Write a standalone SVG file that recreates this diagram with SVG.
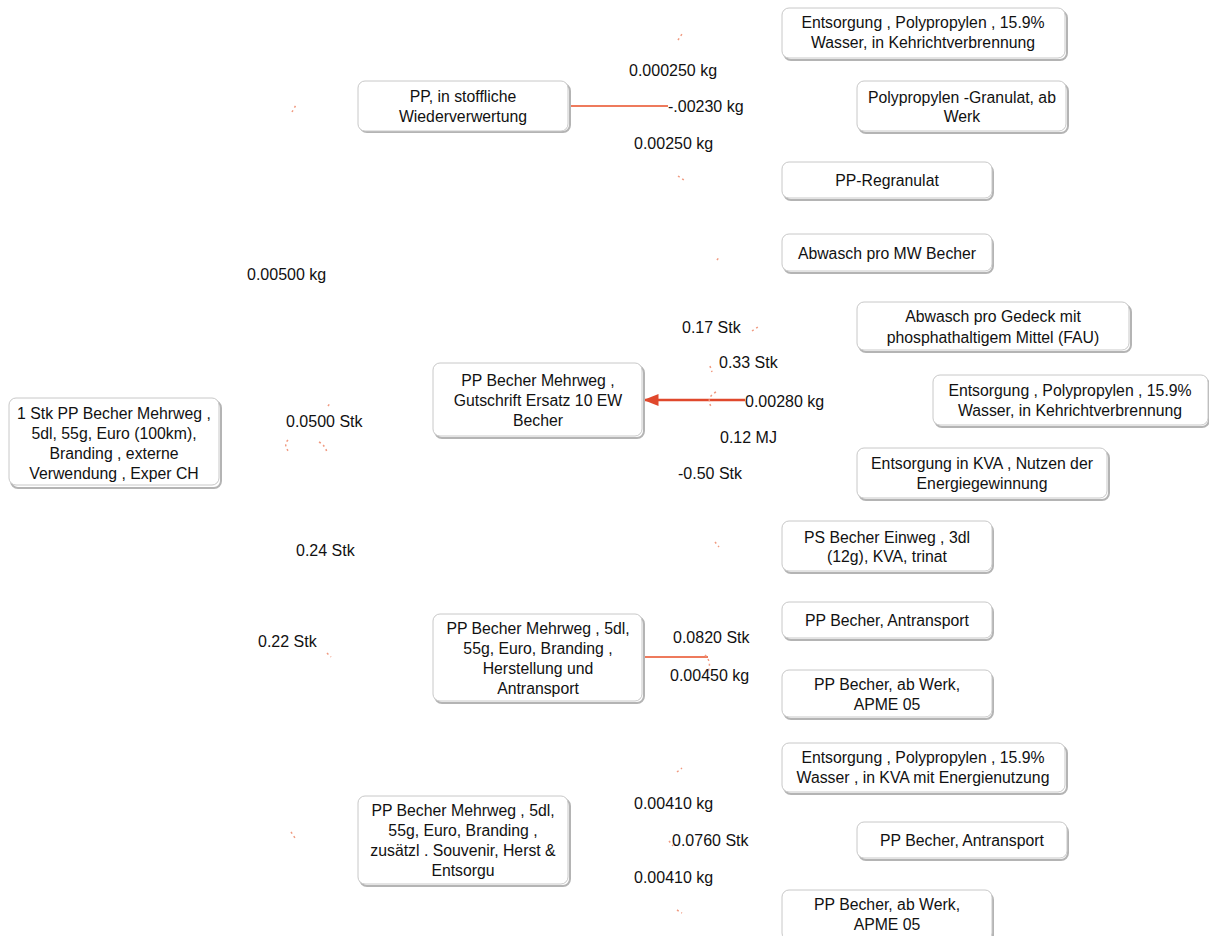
<svg xmlns="http://www.w3.org/2000/svg" width="1209" height="936" viewBox="0 0 1209 936">
<style>
.box{fill:#fff;stroke:#c8c8c8;stroke-width:1}
.sh{fill:none;stroke:#b4b4b4;stroke-width:2}
.t{font-family:"Liberation Sans",Arial,sans-serif;font-size:15.8px;fill:#111;text-anchor:middle}
.l{font-family:"Liberation Sans",Arial,sans-serif;font-size:16px;fill:#111}
.e{fill:none;stroke:#ee7a5c;stroke-width:2}
.f{fill:none;stroke:#f09a80;stroke-width:1.5;stroke-dasharray:2 3}
</style>
<defs>
<marker id="ah" viewBox="0 0 10 10" refX="9" refY="5" markerWidth="6" markerHeight="6" orient="auto"><path d="M0,1 L10,5 L0,9 z" fill="#e0482c"/></marker>
</defs>
<rect width="1209" height="936" fill="#fff"/>
<g id="connectors">
<path class="e" d="M570,106 H668"/>
<path d="M745,400 H645" fill="none" stroke="#e0482c" stroke-width="2.5" marker-end="url(#ah)"/>
<path class="e" d="M643,657 H708"/>
<path class="f" d="M716,392 Q705,398 712,408"/>
<path class="f" d="M705,655 Q712,662 708,672"/>
<path class="f" d="M678,40 L682,34"/>
<path class="f" d="M678,176 L684,180"/>
<path class="f" d="M292,112 L296,105"/>
<path class="f" d="M717,260 L720,256"/>
<path class="f" d="M752,331 L758,327"/>
<path class="f" d="M288,440 Q283,445 289,452"/>
<path class="f" d="M319,442 Q326,446 327,453"/>
<path class="f" d="M328,406 L331,402"/>
<path class="f" d="M715,542 L719,547"/>
<path class="f" d="M327,653 L331,657"/>
<path class="f" d="M677,772 L682,768"/>
<path class="f" d="M669,841 L673,846"/>
<path class="f" d="M291,832 L295,838"/>
<path class="f" d="M677,910 L682,913"/>
<path class="f" d="M710,366 L712,372"/>
</g>
<g id="n0"><rect class="sh" x="11" y="401" width="210" height="87" rx="7"/><rect class="box" x="9" y="398" width="210" height="87" rx="7"/>
<text class="t" x="114" y="419">1 Stk PP Becher Mehrweg ,</text><text class="t" x="114" y="439">5dl, 55g, Euro (100km),</text><text class="t" x="114" y="459">Branding , externe</text><text class="t" x="114" y="479">Verwendung , Exper CH</text></g>
<g id="n1"><rect class="sh" x="360" y="84" width="210" height="48" rx="7"/><rect class="box" x="358" y="81" width="210" height="50" rx="7"/>
<text class="t" x="463" y="102">PP, in stoffliche</text><text class="t" x="463" y="122">Wiederverwertung</text></g>
<g id="n2"><rect class="sh" x="435" y="366" width="209" height="72" rx="7"/><rect class="box" x="433" y="363" width="209" height="73" rx="7"/>
<text class="t" x="538" y="386">PP Becher Mehrweg ,</text><text class="t" x="538" y="406">Gutschrift Ersatz  10 EW</text><text class="t" x="538" y="426">Becher</text></g>
<g id="n3"><rect class="sh" x="435" y="617" width="209" height="86" rx="7"/><rect class="box" x="433" y="614" width="209" height="87" rx="7"/>
<text class="t" x="538" y="634">PP Becher Mehrweg , 5dl,</text><text class="t" x="538" y="654">55g, Euro, Branding ,</text><text class="t" x="538" y="674">Herstellung und</text><text class="t" x="538" y="694">Antransport</text></g>
<g id="n4"><rect class="sh" x="360" y="799" width="210" height="87" rx="7"/><rect class="box" x="358" y="796" width="210" height="88" rx="7"/>
<text class="t" x="463" y="816">PP Becher Mehrweg , 5dl,</text><text class="t" x="463" y="836">55g, Euro, Branding ,</text><text class="t" x="463" y="856">zusätzl . Souvenir, Herst &amp;</text><text class="t" x="463" y="876">Entsorgu</text></g>
<g id="r1"><rect class="sh" x="784" y="11" width="283" height="49" rx="7"/><rect class="box" x="782" y="8" width="283" height="50" rx="7"/>
<text class="t" x="923" y="28">Entsorgung , Polypropylen , 15.9%</text><text class="t" x="923" y="48">Wasser, in Kehrichtverbrennung</text></g>
<g id="r2"><rect class="sh" x="859" y="84" width="209" height="49" rx="7"/><rect class="box" x="857" y="81" width="209" height="50" rx="7"/>
<text class="t" x="962" y="103">Polypropylen -Granulat, ab</text><text class="t" x="962" y="122">Werk</text></g>
<g id="r3"><rect class="sh" x="784" y="165" width="209" height="35" rx="7"/><rect class="box" x="782" y="162" width="210" height="36" rx="7"/>
<text class="t" x="887" y="186">PP-Regranulat</text></g>
<g id="r4"><rect class="sh" x="784" y="237" width="209" height="36" rx="7"/><rect class="box" x="782" y="234" width="210" height="37" rx="7"/>
<text class="t" x="887" y="259">Abwasch pro MW Becher</text></g>
<g id="r5"><rect class="sh" x="859" y="305" width="272" height="47" rx="7"/><rect class="box" x="857" y="302" width="272" height="48" rx="7"/>
<text class="t" x="993" y="322">Abwasch pro Gedeck mit</text><text class="t" x="993" y="343">phosphathaltigem Mittel   (FAU)</text></g>
<g id="r6"><rect class="sh" x="935" y="378" width="274" height="49" rx="7"/><rect class="box" x="933" y="375" width="275" height="50" rx="7"/>
<text class="t" x="1070" y="396">Entsorgung , Polypropylen , 15.9%</text><text class="t" x="1070" y="416">Wasser, in Kehrichtverbrennung</text></g>
<g id="r7"><rect class="sh" x="859" y="451" width="250" height="49" rx="7"/><rect class="box" x="857" y="448" width="250" height="50" rx="7"/>
<text class="t" x="982" y="469">Entsorgung in KVA , Nutzen der</text><text class="t" x="982" y="489">Energiegewinnung</text></g>
<g id="r8"><rect class="sh" x="784" y="524" width="209" height="49" rx="7"/><rect class="box" x="782" y="521" width="210" height="50" rx="7"/>
<text class="t" x="887" y="543">PS Becher Einweg , 3dl</text><text class="t" x="887" y="562">(12g), KVA, trinat</text></g>
<g id="r9"><rect class="sh" x="784" y="605" width="209" height="35" rx="7"/><rect class="box" x="782" y="602" width="210" height="36" rx="7"/>
<text class="t" x="887" y="626">PP Becher, Antransport</text></g>
<g id="r10"><rect class="sh" x="784" y="673" width="209" height="46" rx="7"/><rect class="box" x="782" y="670" width="210" height="47" rx="7"/>
<text class="t" x="887" y="690">PP Becher, ab Werk,</text><text class="t" x="887" y="710">APME 05</text></g>
<g id="r11"><rect class="sh" x="784" y="746" width="283" height="48" rx="7"/><rect class="box" x="782" y="743" width="283" height="49" rx="7"/>
<text class="t" x="923" y="763">Entsorgung , Polypropylen , 15.9%</text><text class="t" x="923" y="783">Wasser , in KVA mit Energienutzung</text></g>
<g id="r12"><rect class="sh" x="859" y="825" width="209" height="35" rx="7"/><rect class="box" x="857" y="822" width="210" height="36" rx="7"/>
<text class="t" x="962" y="846">PP Becher, Antransport</text></g>
<g id="r13"><rect class="sh" x="784" y="893" width="209" height="50" rx="7"/><rect class="box" x="782" y="890" width="210" height="50" rx="7"/>
<text class="t" x="887" y="910">PP Becher, ab Werk,</text><text class="t" x="887" y="930">APME 05</text></g>
<g id="labels">
<text class="l" x="629" y="76">0.000250  kg</text>
<text class="l" x="668" y="112">-.00230  kg</text>
<text class="l" x="634" y="149">0.00250  kg</text>
<text class="l" x="247" y="280">0.00500 kg</text>
<text class="l" x="682" y="333">0.17  Stk</text>
<text class="l" x="719" y="368">0.33  Stk</text>
<text class="l" x="745" y="407">0.00280  kg</text>
<text class="l" x="720" y="443">0.12  MJ</text>
<text class="l" x="678" y="479">-0.50  Stk</text>
<text class="l" x="286" y="427">0.0500  Stk</text>
<text class="l" x="296" y="556">0.24  Stk</text>
<text class="l" x="258" y="647">0.22  Stk</text>
<text class="l" x="673" y="643">0.0820  Stk</text>
<text class="l" x="670" y="681">0.00450  kg</text>
<text class="l" x="634" y="809">0.00410  kg</text>
<text class="l" x="672" y="846">0.0760  Stk</text>
<text class="l" x="634" y="883">0.00410  kg</text>
</g>
</svg>
